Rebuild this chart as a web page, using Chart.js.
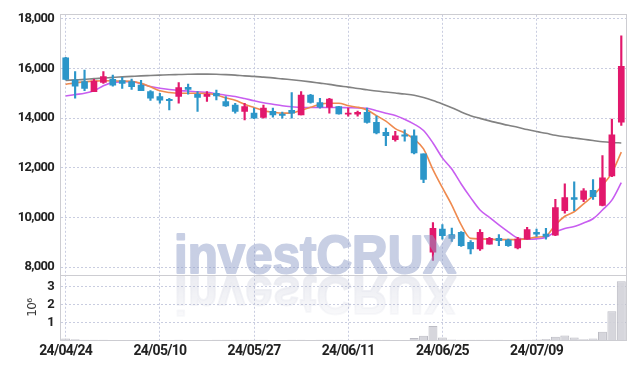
<!DOCTYPE html>
<html>
<head>
<meta charset="utf-8">
<script src="https://cdn.jsdelivr.net/npm/chart.js@4.4.1/dist/chart.umd.min.js"></script>
<style>
  html, body { margin: 0; padding: 0; background: #fff; }
  #wrap { width: 634px; height: 367px; }
</style>
</head>
<body>
<div id="wrap"><canvas id="chart"></canvas></div>
<script>
// trading days, 24/04/24 .. 24/07/22
const dates = [
  '24/04/24','24/04/25','24/04/26','24/04/29','24/04/30','24/05/02','24/05/03','24/05/07','24/05/08','24/05/09',
  '24/05/10','24/05/13','24/05/14','24/05/16','24/05/17','24/05/20','24/05/21','24/05/22','24/05/23','24/05/24',
  '24/05/27','24/05/28','24/05/29','24/05/30','24/05/31','24/06/03','24/06/04','24/06/05','24/06/07','24/06/10',
  '24/06/11','24/06/12','24/06/13','24/06/14','24/06/17','24/06/18','24/06/19','24/06/20','24/06/21','24/06/24',
  '24/06/25','24/06/26','24/06/27','24/06/28','24/07/01','24/07/02','24/07/03','24/07/04','24/07/05','24/07/08',
  '24/07/09','24/07/10','24/07/11','24/07/12','24/07/15','24/07/16','24/07/17','24/07/18','24/07/19','24/07/22'
];
const tickDates = ['24/04/24', '24/05/10', '24/05/27', '24/06/11', '24/06/25', '24/07/09'];
const priceTicks = [8000, 10000, 12000, 14000, 16000, 18000];
const volumeTicks = [1, 2, 3];

const open = [
  16430, 15530, 15470, 15070, 15440, 15560, 15510, 15470, 15330, 15070,
  14870, 14760, 14870, 15240, 14960, 14870, 15000, 14670, 14530, 14270,
  14200, 14030, 14270, 14160, 14310, 14130, 14930, 14630, 14440, 14470,
  14160, 14160, 14230, 13830, 13430, 13130, 13330, 13290, 12560, 8600,
  9530, 9310, 9400, 9000, 8730, 8930, 9160, 9090, 8770, 9130,
  9400, 9330, 9290, 10270, 10800, 10730, 11090, 10490, 11670, 13840
];
const high = [
  16450, 15870, 15930, 15560, 15870, 15730, 15640, 15570, 15520, 15110,
  15000, 14800, 15430, 15370, 15070, 15070, 15130, 14870, 14600, 14600,
  14400, 14530, 14400, 14240, 15030, 15070, 14960, 14800, 14800, 14480,
  14400, 14280, 14400, 14080, 13600, 13470, 13530, 13530, 12560, 9800,
  9710, 9570, 9430, 9070, 9510, 9200, 9310, 9130, 9200, 9600,
  9530, 9560, 10730, 11360, 11440, 11160, 11530, 12490, 13960, 17310
];
const low = [
  15540, 14800, 15110, 15070, 15400, 15290, 15200, 15160, 15110, 14710,
  14600, 14330, 14600, 14960, 14270, 14670, 14730, 14470, 14200, 13930,
  13980, 14000, 14040, 14000, 14000, 14130, 14600, 14400, 14200, 14160,
  14080, 14080, 13800, 13360, 12890, 13070, 13070, 12560, 11400, 8270,
  9130, 9040, 8840, 8530, 8670, 8930, 8870, 8840, 8730, 9130,
  9240, 9130, 9270, 10170, 10270, 10640, 10730, 10470, 11640, 13710
];
const close = [
  15560, 15290, 15200, 15490, 15670, 15330, 15400, 15270, 15110, 14800,
  14720, 14700, 15230, 15160, 14830, 14960, 14890, 14490, 14270, 14470,
  14000, 14400, 14130, 14110, 14200, 14930, 14630, 14440, 14770, 14170,
  14200, 14230, 13830, 13400, 13290, 13290, 13270, 12600, 11530, 9560,
  9270, 9160, 8870, 8730, 9400, 9160, 9070, 8870, 9130, 9510,
  9330, 9240, 10400, 10800, 10730, 11070, 10840, 11600, 13330, 16090
];
// volume in millions of shares
const volume = [
  0.09, 0.06, 0.03, 0.02, 0.02, 0.01, 0.01, 0.01, 0.01, 0.01,
  0.01, 0.01, 0.02, 0.01, 0.01, 0.01, 0.02, 0.02, 0.02, 0.02,
  0.02, 0.02, 0.01, 0.01, 0.03, 0.03, 0.01, 0.02, 0.02, 0.02,
  0.01, 0.02, 0.02, 0.02, 0.02, 0.01, 0.01, 0.12, 0.25, 0.80,
  0.15, 0.04, 0.03, 0.03, 0.03, 0.03, 0.02, 0.01, 0.01, 0.02,
  0.04, 0.07, 0.20, 0.27, 0.15, 0.06, 0.10, 0.47, 1.62, 3.30
];

// moving averages
const maShort = [
  15360, 15420, 15460, 15490, 15505, 15500, 15490, 15480, 15400, 15260,
  15100, 15030, 15000, 15000, 15000, 14990, 14930, 14820, 14720, 14560,
  14430, 14300, 14240, 14200, 14210, 14320, 14440, 14560, 14600, 14600,
  14500, 14440, 14330, 14100, 13880, 13580, 13400, 13150, 12760, 11930,
  11200, 10500, 9700, 9160, 9140, 9130, 9110, 9110, 9110, 9150,
  9210, 9260, 9700, 10050, 10230, 10550, 10880, 11300, 11800, 12630
];
const maMid = [
  14890, 14950, 15000, 15100, 15300, 15440, 15460, 15468, 15380, 15270,
  15200, 15150, 15110, 15090, 15060, 15040, 14980, 14920, 14870, 14790,
  14700, 14620, 14560, 14500, 14460, 14430, 14430, 14430, 14430, 14430,
  14420, 14410, 14400, 14300, 14200, 14110, 13950, 13760, 13500, 13000,
  12400, 11950, 11350, 10800, 10300, 10000, 9700, 9420, 9170, 9130,
  9140, 9200, 9420, 9560, 9640, 9780, 9950, 10300, 10700, 11400
];
const maLong = [
  15520, 15540, 15560, 15590, 15610, 15640, 15660, 15680, 15700, 15715,
  15730, 15745, 15755, 15765, 15772, 15772, 15765, 15750, 15730, 15700,
  15680, 15650, 15620, 15580, 15545, 15505, 15460, 15410, 15360, 15300,
  15250, 15190, 15140, 15090, 15050, 15010, 14970, 14920, 14830, 14710,
  14570, 14420, 14250, 14100, 13990, 13890, 13800, 13710, 13630, 13540,
  13460, 13390, 13310, 13250, 13200, 13150, 13100, 13050, 13020, 13000
];

const upColor = '#e2186c';
const downColor = '#2c96c9';
const gridColor = '#c9cde0';
const candleColors = close.map((c, i) => c >= open[i] ? upColor : downColor);

const yFont = { family: 'Roboto, "Noto Sans", sans-serif', size: 13, weight: 'bold' };
const xFont = { family: 'Roboto, "Noto Sans", sans-serif', size: 14, weight: 'bold' };

// tighter letters for the axis labels
const narrowText = {
  id: 'narrowText',
  beforeDraw(chart) { chart.ctx.letterSpacing = '-0.7px'; }
};

// frame around the plot and line between price and volume panes
const frame = {
  id: 'frame',
  beforeDatasetsDraw(chart) {
    const { ctx, chartArea: a, scales } = chart;
    const sep = Math.round(scales.y.bottom) + 0.5;
    ctx.save();
    ctx.strokeStyle = '#cdcdd2';
    ctx.lineWidth = 1;
    ctx.strokeRect(Math.round(a.left) - 0.5, Math.round(a.top) - 0.5, Math.round(a.right - a.left) + 1, Math.round(a.bottom - a.top) + 1);
    ctx.beginPath();
    ctx.moveTo(a.left, sep);
    ctx.lineTo(a.right, sep);
    ctx.stroke();
    ctx.restore();
  }
};

// investCRUX watermark with its mirror image, drawn on a scratch canvas so the
// heavier outline does not double up the transparency
const watermark = {
  id: 'watermark',
  afterDatasetsDraw(chart) {
    const { ctx, scales, width, height } = chart;
    const base = scales.y.bottom;
    const text = 'investCRUX';
    const off = document.createElement('canvas');
    off.width = width;
    off.height = height;
    const o = off.getContext('2d');
    o.font = 'bold 53px "Liberation Sans", Arial, sans-serif';
    o.lineJoin = 'round';
    o.lineWidth = 2;
    const sx = 284 / (o.measureText(text).width + 2);
    o.translate(174, 0);
    o.scale(sx, 1);
    o.fillStyle = o.strokeStyle = 'rgb(145,159,201)';
    o.fillText(text, 0, base - 2);
    o.strokeText(text, 0, base - 2);

    const r = document.createElement('canvas');
    r.width = width;
    r.height = height;
    const q = r.getContext('2d');
    q.font = o.font;
    q.lineJoin = 'round';
    q.lineWidth = 2;
    q.translate(174, 2 * base);
    q.scale(sx, -1);
    const g = q.createLinearGradient(0, base, 0, base - 42);
    g.addColorStop(0, 'rgb(150,155,185)');
    g.addColorStop(1, 'rgba(150,155,185,0.25)');
    q.fillStyle = q.strokeStyle = g;
    q.fillText(text, 0, base - 2);
    q.strokeText(text, 0, base - 2);

    ctx.save();
    ctx.globalAlpha = 0.5;
    ctx.drawImage(off, 0, 0, width, height);
    ctx.globalAlpha = 0.2;
    ctx.drawImage(r, 0, 0, width, height);
    ctx.restore();
  }
};

const ctx = document.getElementById('chart').getContext('2d');

new Chart(ctx, {
  type: 'bar',
  data: {
    labels: dates,
    datasets: [
      {
        type: 'line', label: 'MA short', data: maShort, yAxisID: 'y', order: 2,
        borderColor: '#ef8a4f', borderWidth: 1.6, pointRadius: 0, cubicInterpolationMode: 'monotone'
      },
      {
        type: 'line', label: 'MA mid', data: maMid, yAxisID: 'y', order: 2,
        borderColor: '#c85ef0', borderWidth: 1.6, pointRadius: 0, cubicInterpolationMode: 'monotone'
      },
      {
        type: 'line', label: 'MA long', data: maLong, yAxisID: 'y', order: 2,
        borderColor: '#828282', borderWidth: 1.6, pointRadius: 0, cubicInterpolationMode: 'monotone'
      },
      {
        label: 'body', data: open.map((o, i) => [o, close[i]]), yAxisID: 'y', order: 0,
        backgroundColor: candleColors, barThickness: 6, minBarLength: 1, grouped: false
      },
      {
        label: 'wick', data: low.map((l, i) => [l, high[i]]), yAxisID: 'y', order: 1,
        backgroundColor: candleColors, barThickness: 1.5, grouped: false
      },
      {
        label: 'volume', data: volume, yAxisID: 'vol', order: 3,
        backgroundColor: 'rgba(210,210,216,0.9)', borderColor: '#bcbcc4', borderWidth: 1,
        barPercentage: 0.95, categoryPercentage: 1, grouped: false
      }
    ]
  },
  options: {
    responsive: true,
    maintainAspectRatio: false,
    animation: false,
    layout: { padding: { left: 0, top: 11, right: 8, bottom: 4 } },
    plugins: {
      legend: { display: false },
      tooltip: { enabled: false }
    },
    scales: {
      x: {
        offset: true,
        grid: {
          offset: false,
          drawTicks: false,
          color: c => tickDates.includes(dates[c.index]) ? gridColor : 'rgba(0,0,0,0)'
        },
        border: { display: false, dash: [2, 2] },
        ticks: {
          autoSkip: false, maxRotation: 0, padding: 3, color: '#222', font: xFont,
          callback: (v, i) => tickDates.includes(dates[i]) ? dates[i] : ''
        }
      },
      vol: {
        position: 'left',
        stack: 'panes',
        stackWeight: 1,
        min: 0,
        max: 3.65,
        afterBuildTicks: axis => { axis.ticks = volumeTicks.map(v => ({ value: v })); },
        afterFit: axis => { axis.width = 61; },
        grid: { drawTicks: false, color: gridColor },
        border: { display: false, dash: [2, 2] },
        ticks: { autoSkip: false, padding: 7, color: '#222', font: yFont },
        title: {
          display: true, text: '10⁶', color: '#333',
          font: { family: '"DejaVu Sans", sans-serif', size: 12 },
          padding: { top: 26, bottom: 0 }
        }
      },
      y: {
        position: 'left',
        stack: 'panes',
        stackWeight: 4,
        min: 7680,
        max: 18160,
        afterBuildTicks: axis => { axis.ticks = priceTicks.map(v => ({ value: v })); },
        afterFit: axis => { axis.width = 61; },
        grid: { drawTicks: false, color: gridColor },
        border: { display: false, dash: [2, 2] },
        ticks: {
          autoSkip: false, padding: 7, color: '#222', font: yFont,
          callback: v => v.toLocaleString('en-US')
        }
      }
    }
  },
  plugins: [narrowText, frame, watermark]
});
</script>
</body>
</html>
